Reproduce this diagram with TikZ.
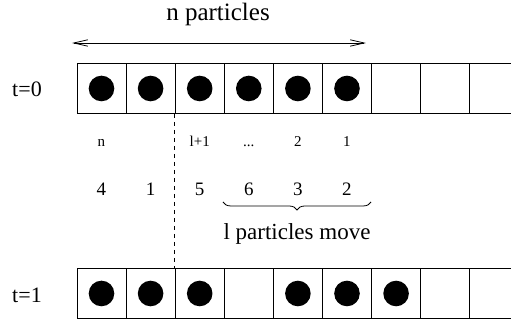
\documentclass[tikz,border=0pt]{standalone}
\usepackage{fontspec}
\setmainfont{Liberation Serif}
\usetikzlibrary{arrows.meta,positioning,decorations.pathreplacing}

\begin{document}
\begin{tikzpicture}[x=0.5pt, y=-0.5pt,
    cell/.style={rectangle, draw, minimum width=24.55pt, minimum height=25pt, inner sep=0pt},
    ball/.style={circle, fill=black, minimum size=12.8pt, inner sep=0pt},
    arrow/.style={{Straight Barb[length=7pt,width=3.2pt]}-{Straight Barb[length=7pt,width=3.2pt]}},
    lbl/.style={anchor=base, inner sep=0pt},
    small/.style={lbl, font=\fontsize{7.5}{9}\selectfont},
    num/.style={lbl, font=\fontsize{9.5}{11}\selectfont}
]
    \useasboundingbox (0,0) rectangle (511,324);

    % cells at t=0 and t=1
    \foreach \i in {0,...,8} {
        \node[cell] (a\i) at ({101.5+49.1*\i},88.5) {};
        \node[cell] (b\i) at ({101.5+49.1*\i},293.5) {};
    }
    \foreach \i in {0,...,5} \node[ball] (p\i) at (a\i) {};
    \foreach \i in {0,1,2,4,5,6} \node[ball] (q\i) at (b\i) {};

    \node[lbl, font=\fontsize{11}{13}\selectfont] (t0) at (27,97) {t=0};
    \node[lbl, font=\fontsize{11}{13}\selectfont] (t1) at (27,303) {t=1};

    % n particles
    \node[lbl, font=\fontsize{12.5}{15}\selectfont] (title) at (218,20.5) {n particles};
    \coordinate (la) at (72,43);
    \coordinate (ra) at (366,43);
    \draw[arrow] (la) -- (ra);

    % labels under the top row
    \node[small] (m0) at (101.5,147) {n};
    \node[small] (m2) at (199.7,147) {l+1};
    \node[small] (m3) at (248.8,147) {...};
    \node[small] (m4) at (297.9,147) {2};
    \node[small] (m5) at (347,147) {1};

    \node[num] (k0) at (101.5,196) {4};
    \node[num] (k1) at (150.6,196) {1};
    \node[num] (k2) at (199.7,196) {5};
    \node[num] (k3) at (248.8,196) {6};
    \node[num] (k4) at (297.9,196) {3};
    \node[num] (k5) at (347,196) {2};

    \draw[dash pattern=on 2.2pt off 1.8pt] (a2.south west) -- (b2.north west);

    \coordinate (bl) at (223,202);
    \coordinate (br) at (371,202);
    \draw[decorate, decoration={brace, mirror, amplitude=4pt}] (bl) -- (br);
    \node[lbl, font=\fontsize{11.5}{14}\selectfont] (move) at (297,240) {l particles move};
\end{tikzpicture}
\end{document}
